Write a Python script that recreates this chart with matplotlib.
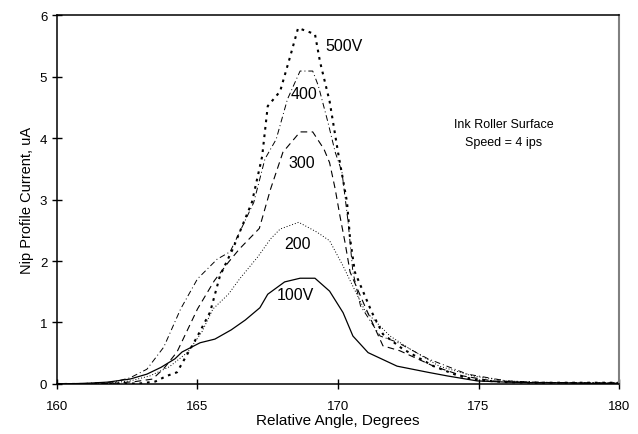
import matplotlib
matplotlib.use("Agg")
import matplotlib.pyplot as plt

plt.rcParams['font.family'] = ['Liberation Sans', 'DejaVu Sans']

# readings (angle in degrees, current in uA)
x_100 = [160, 161, 161.8, 162.6, 163.2, 163.7, 164.2, 164.45, 165.09, 165.62, 166.2, 166.7,
         167.22, 167.5, 168.1, 168.65, 169.18, 169.7, 170.18, 170.53, 171.07, 172.1, 173.2,
         173.9, 174.95, 176, 177, 178, 179, 180]
y_100 = [0, 0.01, 0.03, 0.08, 0.16, 0.27, 0.41, 0.52, 0.67, 0.73, 0.88, 1.04,
         1.24, 1.46, 1.66, 1.72, 1.72, 1.51, 1.16, 0.78, 0.51, 0.29, 0.19,
         0.13, 0.05, 0.03, 0.02, 0.02, 0.01, 0.01]

x_200 = [160, 161, 162, 162.6, 163.3, 164.0, 164.66, 165.16, 165.55, 166.1, 166.5, 167.15,
         167.6, 167.94, 168.6, 169.25, 169.7, 170.18, 170.4, 170.96, 171.85, 172.56, 173.6,
         174.8, 176, 177, 178, 179, 180]
y_200 = [0, 0, 0.02, 0.05, 0.13, 0.28, 0.52, 0.85, 1.22, 1.46, 1.71, 2.07,
         2.36, 2.52, 2.63, 2.47, 2.33, 1.92, 1.71, 1.19, 0.78, 0.57, 0.29,
         0.13, 0.05, 0.03, 0.02, 0.02, 0.02]

x_300 = [160, 161, 162, 162.8, 163.4, 163.8, 164.27, 165.0, 165.6, 166.1, 166.5, 167.2,
         167.6, 168.04, 168.65, 169.1, 169.5, 169.7, 169.9, 170.07, 170.25, 170.43, 171.0,
         171.6, 172.2, 173.4, 174.45, 175.5, 177, 178, 179, 180]
y_300 = [0, 0, 0.01, 0.04, 0.08, 0.25, 0.52, 1.22, 1.68, 1.98, 2.2, 2.53,
         3.17, 3.77, 4.1, 4.1, 3.82, 3.6, 3.17, 2.73, 2.3, 1.82, 1.22,
         0.62, 0.54, 0.29, 0.13, 0.05, 0.02, 0.02, 0.01, 0.01]

x_400 = [160, 161, 162, 162.6, 163.2, 163.8, 164.4, 165.0, 165.7, 166.16, 166.5, 167.0,
         167.4, 167.8, 168.2, 168.65, 169.1, 169.3, 169.64, 169.9, 170.14, 170.36, 170.53,
         170.8, 171.5, 172.1, 173.2, 174.6, 176, 177, 178, 179, 180]
y_400 = [0, 0.01, 0.03, 0.1, 0.24, 0.6, 1.22, 1.71, 2.03, 2.15, 2.47, 2.95,
         3.66, 3.98, 4.63, 5.09, 5.09, 4.85, 4.26, 3.77, 3.45, 2.63, 1.82,
         1.27, 0.78, 0.68, 0.41, 0.16, 0.05, 0.03, 0.02, 0.02, 0.02]

x_500 = [160, 161, 162, 163, 163.5, 163.9, 164.27, 164.98, 165.45, 165.8, 166.26, 166.94,
         167.3, 167.5, 167.94, 168.3, 168.58, 169.18, 169.36, 169.7, 170.0, 170.32, 170.43,
         170.6, 171.2, 171.6, 172.3, 173.4, 174.3, 175, 176, 177, 178, 179, 180]
y_500 = [0, 0, 0, 0.01, 0.04, 0.13, 0.19, 0.76, 1.17, 1.76, 2.2, 2.96,
         3.7, 4.52, 4.76, 5.33, 5.79, 5.69, 5.24, 4.6, 3.77, 2.96, 2.36,
         1.82, 1.17, 0.81, 0.57, 0.29, 0.13, 0.06, 0.03, 0.02, 0.02, 0.02, 0.02]

x_ticks = [160, 165, 170, 175, 180]
y_ticks = [0, 1, 2, 3, 4, 5, 6]

fig = plt.figure(figsize=(6.38, 4.35), dpi=100)
ax = fig.add_axes([0.0893, 0.115, 0.881, 0.848])

ax.plot(x_100, y_100, color='black', lw=0.9, linestyle='-')
ax.plot(x_200, y_200, color='black', lw=0.7, linestyle=(0, (1, 2)))
ax.plot(x_300, y_300, color='black', lw=0.8, linestyle=(0, (6, 4)))
ax.plot(x_400, y_400, color='black', lw=0.7, linestyle=(0, (6, 3, 1, 3)))
ax.plot(x_500, y_500, color='black', lw=1.5, linestyle=(0, (1.3, 2.3)))

# curve labels
ax.text(169.55, 5.5, '500V', fontsize=11.5, ha='left', va='center')
ax.text(168.8, 4.72, '400', fontsize=11.5, ha='center', va='center')
ax.text(168.7, 3.6, '300', fontsize=11.5, ha='center', va='center')
ax.text(168.55, 2.29, '200', fontsize=11.5, ha='center', va='center')
ax.text(168.5, 1.46, '100V', fontsize=11.5, ha='center', va='center')

ax.text(175.9, 4.23, 'Ink Roller Surface', fontsize=9, ha='center', va='center')
ax.text(175.9, 3.94, 'Speed = 4 ips', fontsize=9, ha='center', va='center')

ax.set_xlim(160, 180)
ax.set_ylim(0, 6)
ax.set_xticks(x_ticks)
ax.set_yticks(y_ticks)
ax.tick_params(direction='inout', length=7, width=1, labelsize=9.5, colors='black')
ax.tick_params(axis='x', pad=8)
ax.set_xlabel('Relative Angle, Degrees', fontsize=11, labelpad=1)
ax.set_ylabel('Nip Profile Current, uA', fontsize=10.5, labelpad=4)

ax.spines['right'].set_color('#808080')
ax.spines['right'].set_linewidth(1.5)
for s in ['left', 'bottom', 'top']:
    ax.spines[s].set_linewidth(1.1)

fig.savefig('out.png', dpi=100)
